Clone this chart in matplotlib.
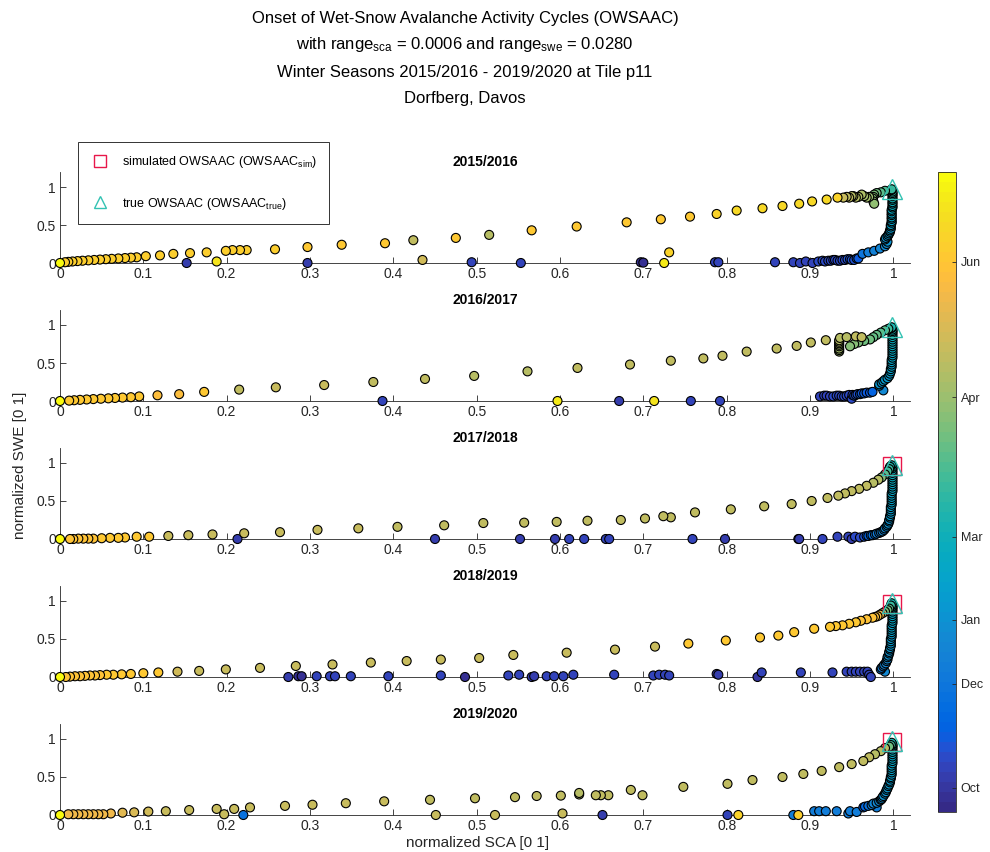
import matplotlib

matplotlib.use("Agg")
import matplotlib.pyplot as plt
from matplotlib.colors import ListedColormap, Normalize
from matplotlib.cm import ScalarMappable
from matplotlib.lines import Line2D

plt.rcParams["font.family"] = ["Liberation Sans", "DejaVu Sans"]
plt.rcParams["mathtext.default"] = "regular"

# --- data: (normalized SCA, normalized SWE, position in season 0..1) ---
SEASONS = ["2015/2016", "2016/2017", "2017/2018", "2018/2019", "2019/2020"]

S1516 = [
    (0.697, 0.01, 0.03), (0.700, 0.005, 0.03), (0.152, 0.0, 0.06), (0.297, 0.0, 0.06), (0.494, 0.01, 0.07),
    (0.553, 0.0, 0.07), (0.786, 0.01, 0.07), (0.790, 0.01, 0.07), (0.858, 0.01, 0.07), (0.880, 0.01, 0.07),
    (0.888, 0.0, 0.07), (0.895, 0.02, 0.07), (0.903, 0.0, 0.07), (0.910, 0.02, 0.08), (0.915, 0.03, 0.08),
    (0.918, 0.02, 0.08), (0.922, 0.03, 0.08), (0.925, 0.03, 0.08), (0.928, 0.04, 0.08), (0.930, 0.04, 0.09),
    (0.933, 0.03, 0.09), (0.936, 0.03, 0.09), (0.939, 0.04, 0.09), (0.942, 0.04, 0.09), (0.945, 0.05, 0.10),
    (0.948, 0.05, 0.10), (0.950, 0.04, 0.10), (0.953, 0.04, 0.10), (0.956, 0.06, 0.11), (0.958, 0.06, 0.11),
    (0.963, 0.12, 0.20), (0.970, 0.14, 0.22), (0.977, 0.16, 0.24), (0.984, 0.19, 0.26), (0.990, 0.22, 0.28),
    (0.992, 0.25, 0.29), (0.993, 0.28, 0.30), (0.990, 0.31, 0.30), (0.991, 0.33, 0.31), (0.993, 0.35, 0.31),
    (0.994, 0.37, 0.32), (0.995, 0.39, 0.32), (0.996, 0.41, 0.33), (0.996, 0.43, 0.33), (0.997, 0.45, 0.34),
    (0.997, 0.48, 0.35), (0.997, 0.50, 0.36), (0.998, 0.53, 0.36), (0.998, 0.55, 0.37), (0.998, 0.58, 0.37),
    (0.998, 0.60, 0.38), (0.998, 0.63, 0.38), (0.998, 0.65, 0.39), (0.998, 0.68, 0.39), (0.998, 0.70, 0.40),
    (0.999, 0.73, 0.41), (0.999, 0.75, 0.42), (0.999, 0.78, 0.42), (0.999, 0.80, 0.43), (0.999, 0.83, 0.44),
    (0.999, 0.85, 0.45), (0.999, 0.88, 0.46), (0.999, 0.90, 0.47), (0.999, 0.92, 0.48), (0.999, 0.94, 0.49),
    (0.998, 0.96, 0.50), (0.998, 0.97, 0.51), (0.990, 0.95, 0.54), (0.985, 0.93, 0.56), (0.980, 0.92, 0.58),
    (0.977, 0.90, 0.60), (0.976, 0.87, 0.61), (0.975, 0.85, 0.62), (0.976, 0.81, 0.63), (0.977, 0.78, 0.64),
    (0.971, 0.87, 0.65), (0.968, 0.86, 0.66), (0.965, 0.88, 0.67), (0.962, 0.90, 0.68), (0.958, 0.87, 0.68),
    (0.955, 0.86, 0.69), (0.952, 0.88, 0.70), (0.950, 0.88, 0.70), (0.947, 0.86, 0.71), (0.944, 0.87, 0.71),
    (0.940, 0.86, 0.72), (0.933, 0.86, 0.90), (0.920, 0.835, 0.91), (0.9025, 0.81, 0.92), (0.887, 0.78, 0.92),
    (0.867, 0.75, 0.92), (0.843, 0.72, 0.91), (0.812, 0.69, 0.91), (0.788, 0.645, 0.90), (0.756, 0.61, 0.86),
    (0.721, 0.575, 0.86), (0.680, 0.535, 0.86), (0.620, 0.48, 0.87), (0.566, 0.43, 0.87), (0.515, 0.37, 0.70),
    (0.475, 0.33, 0.86), (0.424, 0.30, 0.71), (0.390, 0.26, 0.87), (0.338, 0.24, 0.87), (0.297, 0.21, 0.87),
    (0.258, 0.18, 0.88), (0.224, 0.17, 0.88), (0.216, 0.17, 0.88), (0.207, 0.17, 0.88), (0.199, 0.16, 0.88),
    (0.176, 0.14, 0.88), (0.156, 0.13, 0.88), (0.136, 0.12, 0.88), (0.120, 0.10, 0.88), (0.103, 0.09, 0.88),
    (0.092, 0.075, 0.88), (0.085, 0.07, 0.88), (0.078, 0.065, 0.88), (0.070, 0.06, 0.88), (0.062, 0.055, 0.88),
    (0.055, 0.05, 0.88), (0.048, 0.045, 0.88), (0.041, 0.04, 0.88), (0.034, 0.035, 0.88), (0.027, 0.03, 0.88),
    (0.021, 0.025, 0.88), (0.015, 0.02, 0.88), (0.010, 0.015, 0.88), (0.006, 0.01, 0.88), (0.731, 0.14, 0.90),
    (0.725, 0.0, 0.96), (0.435, 0.04, 0.74), (0.188, 0.02, 0.95), (0.0, 0.0, 1.0),
]

S1617 = [
    (0.671, 0.0, 0.06), (0.387, 0.0, 0.07), (0.757, 0.0, 0.07), (0.792, 0.0, 0.07), (0.912, 0.06, 0.07),
    (0.917, 0.07, 0.07), (0.920, 0.07, 0.07), (0.924, 0.06, 0.07), (0.928, 0.06, 0.08), (0.932, 0.07, 0.08),
    (0.935, 0.07, 0.08), (0.938, 0.06, 0.08), (0.941, 0.06, 0.08), (0.944, 0.07, 0.09), (0.947, 0.08, 0.09),
    (0.950, 0.03, 0.09), (0.951, 0.08, 0.09), (0.953, 0.07, 0.10), (0.955, 0.08, 0.10), (0.957, 0.09, 0.10),
    (0.960, 0.09, 0.11), (0.962, 0.10, 0.11), (0.965, 0.10, 0.11), (0.968, 0.11, 0.12), (0.972, 0.11, 0.12),
    (0.975, 0.12, 0.13), (0.988, 0.14, 0.28), (0.983, 0.20, 0.31), (0.983, 0.22, 0.32), (0.986, 0.24, 0.32),
    (0.988, 0.26, 0.33), (0.990, 0.28, 0.33), (0.993, 0.30, 0.34), (0.995, 0.33, 0.34), (0.996, 0.36, 0.35),
    (0.997, 0.39, 0.35), (0.997, 0.42, 0.36), (0.998, 0.45, 0.36), (0.998, 0.48, 0.37), (0.998, 0.51, 0.37),
    (0.998, 0.54, 0.38), (0.999, 0.57, 0.38), (0.999, 0.60, 0.39), (0.999, 0.63, 0.39), (0.999, 0.66, 0.40),
    (0.999, 0.69, 0.40), (0.999, 0.72, 0.41), (0.999, 0.75, 0.41), (0.999, 0.78, 0.42), (0.999, 0.81, 0.42),
    (0.999, 0.84, 0.43), (0.999, 0.87, 0.43), (0.999, 0.90, 0.44), (0.999, 0.92, 0.45), (0.999, 0.94, 0.45),
    (0.998, 0.96, 0.46), (0.998, 0.97, 0.46), (0.994, 0.95, 0.52), (0.990, 0.93, 0.55), (0.985, 0.90, 0.56),
    (0.980, 0.87, 0.57), (0.976, 0.84, 0.57), (0.972, 0.81, 0.58), (0.965, 0.79, 0.59), (0.958, 0.77, 0.60),
    (0.953, 0.75, 0.61), (0.948, 0.72, 0.62), (0.935, 0.65, 0.67), (0.935, 0.67, 0.67), (0.935, 0.69, 0.67),
    (0.935, 0.72, 0.68), (0.935, 0.74, 0.68), (0.935, 0.76, 0.68), (0.935, 0.78, 0.69), (0.935, 0.80, 0.69),
    (0.936, 0.83, 0.70), (0.944, 0.84, 0.70), (0.955, 0.85, 0.71), (0.962, 0.84, 0.71), (0.919, 0.80, 0.71),
    (0.901, 0.77, 0.71), (0.884, 0.725, 0.71), (0.860, 0.69, 0.71), (0.824, 0.65, 0.71), (0.795, 0.595, 0.71),
    (0.772, 0.56, 0.71), (0.733, 0.53, 0.71), (0.684, 0.48, 0.71), (0.621, 0.435, 0.71), (0.561, 0.39, 0.70),
    (0.497, 0.33, 0.70), (0.438, 0.29, 0.71), (0.376, 0.25, 0.71), (0.317, 0.21, 0.72), (0.259, 0.18, 0.72),
    (0.215, 0.15, 0.71), (0.173, 0.12, 0.86), (0.143, 0.09, 0.84), (0.117, 0.075, 0.84), (0.095, 0.06, 0.87),
    (0.085, 0.05, 0.87), (0.075, 0.045, 0.87), (0.066, 0.04, 0.87), (0.058, 0.035, 0.87), (0.049, 0.03, 0.87),
    (0.040, 0.025, 0.87), (0.032, 0.02, 0.87), (0.024, 0.015, 0.87), (0.017, 0.01, 0.87), (0.011, 0.005, 0.87),
    (0.713, 0.0, 0.94), (0.597, 0.0, 0.96), (0.0, 0.0, 1.0),
]

S1718 = [
    (0.213, 0.0, 0.05), (0.450, 0.0, 0.06), (0.552, 0.0, 0.06), (0.594, 0.0, 0.06), (0.611, 0.0, 0.07),
    (0.629, 0.0, 0.07), (0.655, 0.0, 0.07), (0.659, 0.0, 0.07), (0.759, 0.0, 0.07), (0.798, 0.0, 0.05),
    (0.886, 0.0, 0.07), (0.887, 0.0, 0.05), (0.915, 0.0, 0.07), (0.933, 0.03, 0.07), (0.946, 0.03, 0.07),
    (0.950, 0.0, 0.06), (0.954, 0.03, 0.08), (0.960, 0.02, 0.09), (0.965, 0.03, 0.10), (0.968, 0.04, 0.12),
    (0.970, 0.04, 0.14), (0.973, 0.05, 0.16), (0.975, 0.05, 0.18), (0.978, 0.06, 0.20), (0.980, 0.07, 0.22),
    (0.983, 0.08, 0.23), (0.985, 0.09, 0.24), (0.987, 0.10, 0.25), (0.989, 0.12, 0.26), (0.990, 0.14, 0.27),
    (0.992, 0.16, 0.28), (0.993, 0.18, 0.29), (0.994, 0.20, 0.30), (0.995, 0.23, 0.31), (0.995, 0.25, 0.31),
    (0.996, 0.28, 0.32), (0.996, 0.30, 0.33), (0.997, 0.33, 0.33), (0.997, 0.36, 0.34), (0.997, 0.39, 0.34),
    (0.997, 0.42, 0.35), (0.998, 0.45, 0.35), (0.998, 0.48, 0.36), (0.998, 0.51, 0.36), (0.998, 0.54, 0.37),
    (0.998, 0.57, 0.37), (0.998, 0.60, 0.38), (0.999, 0.63, 0.38), (0.999, 0.66, 0.39), (0.999, 0.69, 0.39),
    (0.999, 0.72, 0.40), (0.999, 0.75, 0.40), (0.999, 0.78, 0.41), (0.999, 0.81, 0.41), (0.999, 0.84, 0.42),
    (0.999, 0.87, 0.42), (0.999, 0.90, 0.43), (0.999, 0.93, 0.43), (0.999, 0.95, 0.44), (0.998, 0.97, 0.45),
    (0.996, 0.95, 0.48), (0.995, 0.92, 0.50), (0.993, 0.89, 0.52), (0.990, 0.85, 0.55), (0.986, 0.81, 0.62),
    (0.982, 0.78, 0.70), (0.976, 0.74, 0.70), (0.968, 0.70, 0.71), (0.959, 0.66, 0.71), (0.950, 0.63, 0.71),
    (0.942, 0.60, 0.71), (0.934, 0.57, 0.71), (0.921, 0.54, 0.71), (0.902, 0.50, 0.71), (0.878, 0.46, 0.71),
    (0.845, 0.43, 0.71), (0.805, 0.39, 0.71), (0.762, 0.35, 0.71), (0.733, 0.285, 0.71), (0.724, 0.30, 0.71),
    (0.702, 0.27, 0.71), (0.673, 0.25, 0.71), (0.633, 0.24, 0.71), (0.596, 0.225, 0.71), (0.557, 0.215, 0.71),
    (0.508, 0.21, 0.71), (0.461, 0.18, 0.71), (0.405, 0.16, 0.71), (0.358, 0.14, 0.72), (0.309, 0.12, 0.72),
    (0.264, 0.09, 0.72), (0.221, 0.075, 0.72), (0.183, 0.06, 0.73), (0.154, 0.05, 0.73), (0.130, 0.04, 0.73),
    (0.107, 0.03, 0.87), (0.092, 0.03, 0.87), (0.078, 0.02, 0.87), (0.070, 0.015, 0.87), (0.060, 0.015, 0.87),
    (0.050, 0.01, 0.87), (0.040, 0.005, 0.85), (0.034, 0.005, 0.85), (0.028, 0.005, 0.85), (0.022, 0.005, 0.85),
    (0.016, 0.0, 0.85), (0.012, 0.0, 0.85), (0.0, 0.0, 1.0),
]

S1819 = [
    (0.274, 0.0, 0.06), (0.286, 0.01, 0.02), (0.290, 0.01, 0.03), (0.308, 0.01, 0.07), (0.324, 0.01, 0.07),
    (0.330, 0.01, 0.07), (0.349, 0.01, 0.07), (0.394, 0.01, 0.07), (0.457, 0.02, 0.07), (0.486, 0.0, 0.03),
    (0.538, 0.02, 0.07), (0.551, 0.03, 0.07), (0.566, 0.0, 0.05), (0.569, 0.01, 0.05), (0.584, 0.01, 0.07),
    (0.593, 0.01, 0.07), (0.604, 0.01, 0.07), (0.616, 0.03, 0.07), (0.665, 0.03, 0.07), (0.712, 0.02, 0.07),
    (0.719, 0.03, 0.07), (0.726, 0.03, 0.07), (0.731, 0.02, 0.07), (0.788, 0.04, 0.05), (0.790, 0.03, 0.05),
    (0.837, 0.0, 0.04), (0.842, 0.06, 0.07), (0.889, 0.06, 0.07), (0.927, 0.06, 0.07), (0.944, 0.07, 0.07),
    (0.950, 0.07, 0.07), (0.955, 0.07, 0.07), (0.960, 0.07, 0.07), (0.965, 0.07, 0.07), (0.969, 0.07, 0.07),
    (0.971, 0.03, 0.07), (0.973, 0.0, 0.07), (0.990, 0.07, 0.28), (0.985, 0.10, 0.20), (0.986, 0.12, 0.22),
    (0.988, 0.14, 0.24), (0.989, 0.16, 0.25), (0.991, 0.18, 0.26), (0.992, 0.21, 0.27), (0.993, 0.23, 0.28),
    (0.993, 0.26, 0.29), (0.994, 0.28, 0.30), (0.995, 0.31, 0.30), (0.995, 0.33, 0.31), (0.996, 0.36, 0.31),
    (0.996, 0.38, 0.32), (0.997, 0.41, 0.32), (0.997, 0.44, 0.33), (0.997, 0.47, 0.33), (0.997, 0.50, 0.34),
    (0.998, 0.53, 0.34), (0.998, 0.56, 0.35), (0.998, 0.59, 0.35), (0.998, 0.62, 0.36), (0.998, 0.65, 0.36),
    (0.998, 0.68, 0.37), (0.999, 0.71, 0.37), (0.999, 0.74, 0.38), (0.999, 0.77, 0.38), (0.999, 0.80, 0.39),
    (0.999, 0.83, 0.39), (0.999, 0.86, 0.40), (0.999, 0.89, 0.41), (0.999, 0.91, 0.42), (0.999, 0.93, 0.43),
    (0.999, 0.95, 0.44), (0.998, 0.97, 0.46), (0.997, 0.94, 0.50), (0.995, 0.90, 0.55), (0.993, 0.88, 0.58),
    (0.990, 0.86, 0.60), (0.987, 0.84, 0.70), (0.984, 0.82, 0.80), (0.981, 0.80, 0.84), (0.978, 0.79, 0.85),
    (0.975, 0.78, 0.85), (0.968, 0.76, 0.85), (0.961, 0.74, 0.85), (0.955, 0.72, 0.86), (0.947, 0.70, 0.86),
    (0.939, 0.68, 0.86), (0.931, 0.67, 0.86), (0.924, 0.66, 0.86), (0.905, 0.635, 0.86), (0.881, 0.59, 0.86),
    (0.862, 0.545, 0.86), (0.840, 0.52, 0.86), (0.799, 0.48, 0.86), (0.754, 0.44, 0.86), (0.714, 0.40, 0.73),
    (0.666, 0.36, 0.72), (0.608, 0.32, 0.72), (0.544, 0.29, 0.72), (0.503, 0.25, 0.72), (0.457, 0.23, 0.72),
    (0.416, 0.21, 0.72), (0.373, 0.19, 0.72), (0.327, 0.165, 0.72), (0.283, 0.145, 0.72), (0.240, 0.12, 0.73),
    (0.199, 0.10, 0.73), (0.167, 0.08, 0.73), (0.141, 0.07, 0.74), (0.118, 0.06, 0.87), (0.100, 0.05, 0.87),
    (0.085, 0.04, 0.87), (0.074, 0.035, 0.87), (0.064, 0.03, 0.87), (0.056, 0.03, 0.87), (0.048, 0.025, 0.85),
    (0.042, 0.02, 0.85), (0.036, 0.02, 0.85), (0.030, 0.015, 0.85), (0.024, 0.01, 0.85), (0.018, 0.01, 0.85),
    (0.012, 0.005, 0.85), (0.007, 0.0, 0.85), (0.0, 0.0, 1.0),
]

S1920 = [
    (0.651, 0.0, 0.06), (0.801, 0.0, 0.07), (0.220, 0.0, 0.18), (0.880, 0.0, 0.22), (0.905, 0.05, 0.22),
    (0.911, 0.05, 0.22), (0.919, 0.05, 0.23), (0.932, 0.05, 0.23), (0.946, 0.02, 0.23), (0.948, 0.05, 0.23),
    (0.956, 0.04, 0.23), (0.964, 0.10, 0.12), (0.966, 0.11, 0.15), (0.970, 0.12, 0.18), (0.980, 0.10, 0.23),
    (0.974, 0.13, 0.25), (0.976, 0.15, 0.26), (0.980, 0.16, 0.27), (0.983, 0.18, 0.28), (0.985, 0.20, 0.28),
    (0.986, 0.21, 0.29), (0.987, 0.23, 0.29), (0.988, 0.25, 0.30), (0.990, 0.28, 0.30), (0.991, 0.30, 0.31),
    (0.992, 0.33, 0.31), (0.993, 0.35, 0.32), (0.994, 0.38, 0.32), (0.995, 0.40, 0.33), (0.996, 0.43, 0.33),
    (0.996, 0.45, 0.34), (0.997, 0.48, 0.34), (0.997, 0.50, 0.35), (0.998, 0.53, 0.35), (0.998, 0.56, 0.36),
    (0.998, 0.59, 0.36), (0.998, 0.62, 0.37), (0.998, 0.65, 0.37), (0.999, 0.68, 0.38), (0.999, 0.71, 0.38),
    (0.999, 0.74, 0.39), (0.999, 0.77, 0.39), (0.999, 0.80, 0.40), (0.999, 0.83, 0.41), (0.999, 0.86, 0.42),
    (0.999, 0.89, 0.43), (0.999, 0.91, 0.44), (0.999, 0.93, 0.45), (0.998, 0.95, 0.46), (0.997, 0.92, 0.52),
    (0.995, 0.90, 0.58), (0.990, 0.88, 0.70), (0.985, 0.84, 0.70), (0.978, 0.80, 0.70), (0.971, 0.76, 0.71),
    (0.964, 0.71, 0.71), (0.950, 0.67, 0.71), (0.935, 0.63, 0.71), (0.914, 0.58, 0.71), (0.892, 0.54, 0.71),
    (0.867, 0.50, 0.71), (0.831, 0.46, 0.71), (0.801, 0.41, 0.71), (0.748, 0.37, 0.71), (0.699, 0.26, 0.71),
    (0.685, 0.33, 0.71), (0.658, 0.26, 0.71), (0.649, 0.26, 0.71), (0.643, 0.26, 0.71), (0.623, 0.27, 0.69),
    (0.623, 0.29, 0.69), (0.601, 0.255, 0.71), (0.572, 0.25, 0.71), (0.546, 0.235, 0.71), (0.498, 0.22, 0.71),
    (0.444, 0.20, 0.71), (0.389, 0.18, 0.72), (0.343, 0.155, 0.72), (0.303, 0.135, 0.72), (0.270, 0.12, 0.72),
    (0.228, 0.10, 0.73), (0.209, 0.08, 0.73), (0.188, 0.08, 0.73), (0.155, 0.065, 0.73), (0.127, 0.05, 0.73),
    (0.106, 0.045, 0.74), (0.089, 0.035, 0.76), (0.075, 0.03, 0.77), (0.061, 0.02, 0.80), (0.052, 0.01, 0.80),
    (0.046, 0.01, 0.80), (0.040, 0.01, 0.80), (0.034, 0.01, 0.80), (0.028, 0.01, 0.80), (0.022, 0.01, 0.80),
    (0.016, 0.01, 0.80), (0.010, 0.01, 0.80), (0.886, 0.0, 0.88), (0.814, 0.0, 0.90), (0.603, 0.02, 0.72),
    (0.522, 0.0, 0.72), (0.451, 0.0, 0.72), (0.197, 0.01, 0.72), (0.0, 0.0, 1.0),
]

SEASON_POINTS = [S1516, S1617, S1718, S1819, S1920]

# simulated / true onset (None = not detected)
SIM_OWSAAC = [None, None, (0.999, 0.96), (0.999, 0.96), (0.999, 0.96)]
TRUE_OWSAAC = [(0.998, 0.97), (0.998, 0.97), (0.998, 0.97), (0.998, 0.97), (0.998, 0.97)]

CB_TICKS = [0.0375, 0.20, 0.30, 0.43, 0.648, 0.86]
CB_LABELS = ["Oct", "Dec", "Jan", "Mar", "Apr", "Jun"]

X_TICKS = [0, 0.1, 0.2, 0.3, 0.4, 0.5, 0.6, 0.7, 0.8, 0.9, 1]
X_LABELS = ["0", "0.1", "0.2", "0.3", "0.4", "0.5", "0.6", "0.7", "0.8", "0.9", "1"]

# MATLAB parula (64 entries)
PARULA = [
    (0.2081, 0.1663, 0.5292), (0.2116, 0.1898, 0.5777), (0.2123, 0.2138, 0.6270), (0.2081, 0.2386, 0.6771),
    (0.1959, 0.2645, 0.7279), (0.1707, 0.2919, 0.7792), (0.1253, 0.3242, 0.8303), (0.0591, 0.3598, 0.8683),
    (0.0117, 0.3875, 0.8820), (0.0060, 0.4086, 0.8828), (0.0165, 0.4266, 0.8786), (0.0329, 0.4430, 0.8720),
    (0.0498, 0.4586, 0.8641), (0.0629, 0.4737, 0.8554), (0.0723, 0.4887, 0.8467), (0.0779, 0.5040, 0.8384),
    (0.0793, 0.5200, 0.8312), (0.0749, 0.5375, 0.8263), (0.0641, 0.5570, 0.8240), (0.0488, 0.5772, 0.8228),
    (0.0343, 0.5966, 0.8199), (0.0265, 0.6137, 0.8135), (0.0239, 0.6287, 0.8038), (0.0231, 0.6418, 0.7913),
    (0.0228, 0.6535, 0.7768), (0.0267, 0.6642, 0.7607), (0.0384, 0.6743, 0.7436), (0.0590, 0.6838, 0.7254),
    (0.0843, 0.6928, 0.7062), (0.1133, 0.7015, 0.6859), (0.1453, 0.7098, 0.6646), (0.1801, 0.7177, 0.6424),
    (0.2178, 0.7250, 0.6193), (0.2586, 0.7317, 0.5954), (0.3022, 0.7376, 0.5712), (0.3482, 0.7424, 0.5473),
    (0.3953, 0.7459, 0.5244), (0.4420, 0.7481, 0.5033), (0.4871, 0.7491, 0.4840), (0.5300, 0.7491, 0.4661),
    (0.5709, 0.7485, 0.4494), (0.6099, 0.7473, 0.4337), (0.6473, 0.7456, 0.4188), (0.6834, 0.7435, 0.4044),
    (0.7184, 0.7411, 0.3905), (0.7525, 0.7384, 0.3768), (0.7858, 0.7356, 0.3633), (0.8185, 0.7327, 0.3498),
    (0.8507, 0.7299, 0.3360), (0.8824, 0.7274, 0.3217), (0.9139, 0.7258, 0.3063), (0.9450, 0.7261, 0.2886),
    (0.9739, 0.7314, 0.2666), (0.9938, 0.7455, 0.2403), (0.9990, 0.7653, 0.2164), (0.9955, 0.7861, 0.1967),
    (0.9880, 0.8066, 0.1794), (0.9789, 0.8271, 0.1633), (0.9697, 0.8481, 0.1475), (0.9626, 0.8705, 0.1309),
    (0.9589, 0.8949, 0.1132), (0.9598, 0.9218, 0.0948), (0.9661, 0.9514, 0.0755), (0.9763, 0.9831, 0.0538),
]

AX_COLOR = "#262626"
SIM_COLOR = "#e8174a"
TRUE_COLOR = "#33c2b3"


def style_axes(ax):
    ax.spines["top"].set_visible(False)
    ax.spines["right"].set_visible(False)
    for s in ("left", "bottom"):
        ax.spines[s].set_color(AX_COLOR)
        ax.spines[s].set_linewidth(0.6)
    ax.tick_params(direction="in", length=4, width=0.6, colors=AX_COLOR, labelsize=10, pad=3)


def main():
    cmap = ListedColormap(PARULA)
    norm = Normalize(0, 1)
    fig = plt.figure(figsize=(9.9, 8.52), dpi=100)

    W, H = 990, 852
    left, right = 60, 910
    zero_px = [263, 401, 539, 677, 815]
    unit_px = 76
    ymax = 1.2

    for i, season in enumerate(SEASONS):
        bottom = 1 - zero_px[i] / H
        height = ymax * unit_px / H
        ax = fig.add_axes([left / W, bottom, (right - left) / W, height])
        pts = SEASON_POINTS[i]
        ax.scatter([p[0] for p in pts], [p[1] for p in pts], c=[p[2] for p in pts], cmap=cmap, norm=norm,
                   s=42, edgecolors="black", linewidths=0.8, clip_on=False, zorder=3)
        if SIM_OWSAAC[i] is not None:
            ax.plot(*SIM_OWSAAC[i], marker="s", markersize=13, markerfacecolor="none",
                    markeredgecolor=SIM_COLOR, markeredgewidth=1.0, clip_on=False, zorder=4)
        ax.plot(*TRUE_OWSAAC[i], marker="^", markersize=14, markerfacecolor="none",
                markeredgecolor=TRUE_COLOR, markeredgewidth=1.0, clip_on=False, zorder=5)
        ax.set_xlim(0, 1.02)
        ax.set_ylim(0, ymax)
        ax.set_xticks(X_TICKS, X_LABELS)
        ax.set_yticks([0, 0.5, 1], ["0", "0.5", "1"])
        style_axes(ax)
        ax.set_title(season, fontsize=10, fontweight="bold", pad=4)

    cax = fig.add_axes([938 / W, 1 - 812 / H, 18 / W, 640 / H])
    cb = fig.colorbar(ScalarMappable(norm=norm, cmap=cmap), cax=cax)
    cb.set_ticks(CB_TICKS, labels=CB_LABELS)
    cb.ax.tick_params(direction="in", length=3, width=0.6, colors=AX_COLOR, labelsize=9)
    cb.outline.set_linewidth(0.6)
    cb.outline.set_edgecolor(AX_COLOR)

    titles = [
        "Onset of Wet-Snow Avalanche Activity Cycles (OWSAAC)",
        "with range$_{sca}$ = 0.0006 and range$_{swe}$ = 0.0280",
        "Winter Seasons 2015/2016 - 2019/2020 at Tile p11",
        "Dorfberg, Davos",
    ]
    for k, line in enumerate(titles):
        fig.text(465 / W, 1 - (18 + 27 * k) / H, line, ha="center", va="center", fontsize=12, color="black")

    fig.text(20 / W, 1 - 465 / H, "normalized SWE [0 1]", rotation=90, ha="center", va="center",
             fontsize=11, color=AX_COLOR)
    fig.text(478 / W, 1 - 843 / H, "normalized SCA [0 1]", ha="center", va="center",
             fontsize=11, color=AX_COLOR)

    handles = [
        Line2D([], [], linestyle="none", marker="s", markersize=8, markerfacecolor="none",
               markeredgecolor=SIM_COLOR, markeredgewidth=1.0),
        Line2D([], [], linestyle="none", marker="^", markersize=9, markerfacecolor="none",
               markeredgecolor=TRUE_COLOR, markeredgewidth=1.0),
    ]
    labels = ["simulated OWSAAC (OWSAAC$_{sim}$)", "true OWSAAC (OWSAAC$_{true}$)"]
    leg = fig.legend(handles, labels, loc="upper left", bbox_to_anchor=(78 / W, 1 - 142 / H), fontsize=9,
                     frameon=True, fancybox=False, edgecolor="black", labelspacing=2.0, handletextpad=1.0,
                     borderpad=1.0, handlelength=1.5, borderaxespad=0)
    leg.get_frame().set_linewidth(0.7)

    fig.savefig("out.png", dpi=100)
    plt.close(fig)


if __name__ == "__main__":
    main()
